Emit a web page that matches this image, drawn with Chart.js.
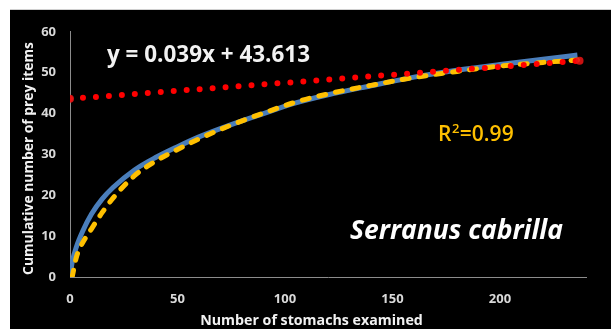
<!DOCTYPE html>
<html>
<head>
<meta charset="utf-8">
<script src="https://cdn.jsdelivr.net/npm/chart.js@4.4.1/dist/chart.umd.min.js"></script>
<style>
  html, body { margin: 0; padding: 0; background: #ffffff; }
  #box { position: absolute; left: 10px; top: 9px; width: 601px; height: 319px; border-top: 1px solid #d0d0d0; background: #000; }
</style>
</head>
<body>
<div id="box"><canvas id="c"></canvas></div>
<script>
// ---- data ----
const xTicks = [0, 50, 100, 150, 200];
const yTicks = [0, 10, 20, 30, 40, 50, 60];

const fitX = [0, 1, 3, 6, 10, 15, 20, 30, 40, 50, 60, 75, 90, 105, 120, 140, 160, 180, 200, 220, 236];
const fitY = [0, 3.6, 7.4, 11.3, 15.4, 19.1, 21.9, 26.2, 29.3, 31.9, 34.3, 37.3, 40, 42.6, 44.6, 46.8, 48.9, 50.6, 52, 53.3, 54.3];

const obsX = [1, 3, 5, 10, 15, 20, 30, 40, 50, 60, 75, 90, 105, 120, 140, 160, 180, 200, 220, 236];
const obsY = [0, 4.9, 7.5, 11.8, 15.8, 19.3, 24.8, 28.4, 31.2, 33.8, 37.2, 40.1, 42.8, 44.8, 46.9, 48.8, 50.3, 51.6, 52.5, 53.1];

const trendX = [0, 237];
const trendY = [43.6, 52.9];

const equationText = "y = 0.039x + 43.613";
const r2Text = ["R", "2", "=0.99"];
const speciesText = "Serranus cabrilla";
const xTitle = "Number of stomachs examined";
const yTitle = "Cumulative number of prey items";

const toPts = (xs, ys) => xs.map((x, i) => ({ x: x, y: ys[i] }));

const FAMILY = '"Open Sans", "DejaVu Sans", sans-serif';

function fitSize(ctx, text, weight, style, width) {
  ctx.font = `${style} ${weight} 100px ${FAMILY}`;
  return 100 * width / ctx.measureText(text).width;
}

const bgPlugin = {
  id: 'bg',
  beforeDraw(chart) {
    const ctx = chart.ctx;
    ctx.save();
    ctx.fillStyle = '#000';
    ctx.fillRect(0, 0, chart.width, chart.height);
    ctx.restore();
  }
};

const textPlugin = {
  id: 'texts',
  afterDraw(chart) {
    const ctx = chart.ctx;
    ctx.save();
    ctx.textBaseline = 'alphabetic';
    ctx.textAlign = 'left';

    // equation
    let s = fitSize(ctx, equationText, 'bold', 'normal', 203);
    ctx.font = `bold ${s}px ${FAMILY}`;
    ctx.fillStyle = '#f2f2f2';
    ctx.fillText(equationText, 97, 52);

    // R^2
    const rs = 21;
    ctx.fillStyle = '#ffc000';
    ctx.font = `600 ${rs}px ${FAMILY}`;
    let x = 428;
    ctx.fillText(r2Text[0], x, 131);
    x += ctx.measureText(r2Text[0]).width;
    ctx.font = `600 ${rs * 0.62}px ${FAMILY}`;
    ctx.fillText(r2Text[1], x + 0.5, 131 - rs * 0.38);
    x += ctx.measureText(r2Text[1]).width + 1;
    ctx.font = `600 ${rs}px ${FAMILY}`;
    ctx.fillText(r2Text[2], x, 131);

    // species
    s = fitSize(ctx, speciesText, 'bold', 'italic', 213);
    ctx.font = `italic bold ${s}px ${FAMILY}`;
    ctx.fillStyle = '#ffffff';
    ctx.fillText(speciesText, 340, 229);

    // x title
    s = fitSize(ctx, xTitle, 'bold', 'normal', 223);
    ctx.font = `bold ${s}px ${FAMILY}`;
    ctx.fillStyle = '#f2f2f2';
    ctx.textAlign = 'center';
    ctx.fillText(xTitle, 301.5, 315);

    // y title
    s = fitSize(ctx, yTitle, 'bold', 'normal', 233);
    ctx.font = `bold ${s}px ${FAMILY}`;
    ctx.translate(23, 148.5);
    ctx.rotate(-Math.PI / 2);
    ctx.fillText(yTitle, 0, 0);
    ctx.restore();
  }
};

new Chart(document.getElementById('c'), {
  type: 'line',
  data: {
    datasets: [
      {
        label: 'trend',
        data: toPts(trendX, trendY),
        borderColor: '#ff0000',
        backgroundColor: 'rgba(235,20,20,0.85)',
        borderWidth: 6,
        borderDash: [0, 13],
        borderCapStyle: 'round',
        pointRadius: 4,
        pointBorderWidth: 0,
        order: 0
      },
      {
        label: 'observed',
        data: toPts(obsX, obsY),
        borderColor: '#ffc000',
        borderWidth: 5,
        borderDash: [7, 10],
        borderCapStyle: 'round',
        cubicInterpolationMode: 'monotone',
        pointRadius: 0,
        order: 1
      },
      {
        label: 'fit',
        data: toPts(fitX, fitY),
        borderColor: '#4a7ebb',
        borderWidth: 5,
        cubicInterpolationMode: 'monotone',
        pointRadius: 0,
        order: 2
      }
    ]
  },
  options: {
    responsive: true,
    maintainAspectRatio: false,
    animation: false,
    events: [],
    layout: { padding: { top: 16, right: 25, bottom: 0, left: 0 } },
    plugins: { legend: { display: false }, tooltip: { enabled: false } },
    scales: {
      x: {
        type: 'linear',
        min: 0,
        max: 240,
        afterBuildTicks: (sc) => { sc.ticks = xTicks.map(v => ({ value: v })); },
        afterFit: (sc) => { sc.height = 52; },
        grid: { display: false, drawTicks: false },
        border: { display: true, color: '#8c8c8c', width: 1 },
        ticks: { color: '#d9d9d9', padding: 14, font: { family: FAMILY, weight: 'bold', size: 13 } }
      },
      y: {
        type: 'linear',
        min: 0,
        max: 60,
        afterBuildTicks: (sc) => { sc.ticks = yTicks.map(v => ({ value: v })); },
        afterFit: (sc) => { sc.width = 60; },
        grid: { display: false, drawTicks: false },
        border: { display: true, color: '#8c8c8c', width: 1 },
        ticks: { color: '#d9d9d9', padding: 14, font: { family: FAMILY, weight: 'bold', size: 13 } }
      }
    }
  },
  plugins: [bgPlugin, textPlugin]
});
</script>
</body>
</html>
